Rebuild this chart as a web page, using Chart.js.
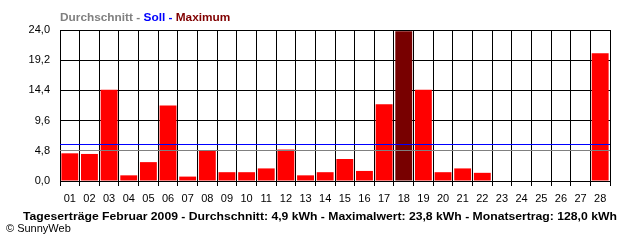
<!DOCTYPE html>
<html lang="de">
<head>
    <meta charset="UTF-8">
    <title>Tageserträge Februar 2009</title>
    <script src="https://cdn.jsdelivr.net/npm/chart.js"></script>
    <style>
        body { margin: 0; background: #fff; }
        .wrap { position: relative; width: 640px; height: 240px; overflow: hidden; font-family: "Liberation Sans", Arial, sans-serif; }
        .wrap canvas { position: absolute; left: 0; top: 0; }
        .txt { position: absolute; white-space: nowrap; display: inline-block; line-height: 13px; transform-origin: left top; }
        #legende { left: 60px; top: 11px; font-size: 11px; font-weight: bold; }
        #titel { left: 23px; top: 210px; font-size: 11px; font-weight: bold; color: #000; }
        #copy { left: 6px; top: 222px; font-size: 11px; color: #000; }
    </style>
</head>
<body>
    <div class="wrap">
        <canvas id="ertragChart" width="640" height="240"></canvas>
        <div id="legende" class="txt"><span style="color:#808080">Durchschnitt - </span><span style="color:#0000ff">Soll - </span><span style="color:#800000">Maximum</span></div>
        <div id="titel" class="txt">Tageserträge Februar 2009 - Durchschnitt: 4,9 kWh - Maximalwert: 23,8 kWh - Monatsertrag: 128,0 kWh</div>
        <div id="copy" class="txt">© SunnyWeb</div>
    </div>
    <script>
        // Tage im Februar 2009
        const tage = ['01','02','03','04','05','06','07','08','09','10','11','12','13','14',
                      '15','16','17','18','19','20','21','22','23','24','25','26','27','28'];
        // Tagesertrag in kWh
        const ertrag = [4.4, 4.3, 14.5, 0.9, 3.0, 12.0, 0.7, 4.9, 1.4, 1.4, 2.0, 5.0, 0.9, 1.4,
                        3.5, 1.6, 12.2, 23.8, 14.5, 1.4, 2.0, 1.3, null, null, null, null, null, 20.3];
        const durchschnitt = 4.9;
        const soll = 5.9;
        const yMax = 24;
        const yStep = 4.8;

        const maxWert = Math.max(...ertrag.filter(v => v !== null));
        const barFarben = ertrag.map(v => v === maxWert ? '#780000' : '#ff0000');

        const linienPlugin = {
            id: 'linien',
            afterDatasetsDraw(chart) {
                const ctx = chart.ctx;
                const area = chart.chartArea;
                const y = chart.scales.y;
                const linie = (wert, farbe) => {
                    const py = Math.round(y.getPixelForValue(wert)) + 0.5;
                    ctx.save();
                    ctx.strokeStyle = farbe;
                    ctx.lineWidth = 1;
                    ctx.beginPath();
                    ctx.moveTo(area.left, py);
                    ctx.lineTo(area.right, py);
                    ctx.stroke();
                    ctx.restore();
                };
                linie(soll, '#0000ff');
                linie(durchschnitt, '#808080');
            }
        };

        const fontFam = '"Liberation Sans", Arial, sans-serif';

        new Chart(document.getElementById('ertragChart'), {
            type: 'bar',
            data: {
                labels: tage,
                datasets: [{
                    label: 'Ertrag',
                    data: ertrag,
                    backgroundColor: barFarben,
                    borderWidth: 0,
                    barPercentage: 0.86,
                    categoryPercentage: 1.0
                }]
            },
            options: {
                responsive: false,
                animation: false,
                layout: { padding: { left: 0, right: 30, top: 30, bottom: 0 } },
                plugins: {
                    legend: { display: false },
                    tooltip: { enabled: false }
                },
                scales: {
                    x: {
                        grid: { color: '#000', lineWidth: 1, tickLength: 5, offset: true },
                        border: { color: '#000' },
                        ticks: { color: '#000', font: { family: fontFam, size: 11 }, padding: 6, maxRotation: 0, autoSkip: false },
                        afterFit: s => { s.height = 59; }
                    },
                    y: {
                        min: 0,
                        max: yMax,
                        grid: { color: '#000', lineWidth: 1, drawTicks: false },
                        border: { color: '#000' },
                        ticks: {
                            stepSize: yStep,
                            color: '#000',
                            padding: 10,
                            font: { family: fontFam, size: 11 },
                            callback: v => v.toFixed(1).replace('.', ',')
                        },
                        afterFit: s => { s.width = 60; }
                    }
                }
            },
            plugins: [linienPlugin]
        });

        // Texte auf die Breite des Originals bringen
        function breite(id, w) {
            const el = document.getElementById(id);
            el.style.transform = 'scaleX(' + (w / el.scrollWidth) + ')';
        }
        breite('legende', 170);
        breite('titel', 594);
    </script>
</body>
</html>
